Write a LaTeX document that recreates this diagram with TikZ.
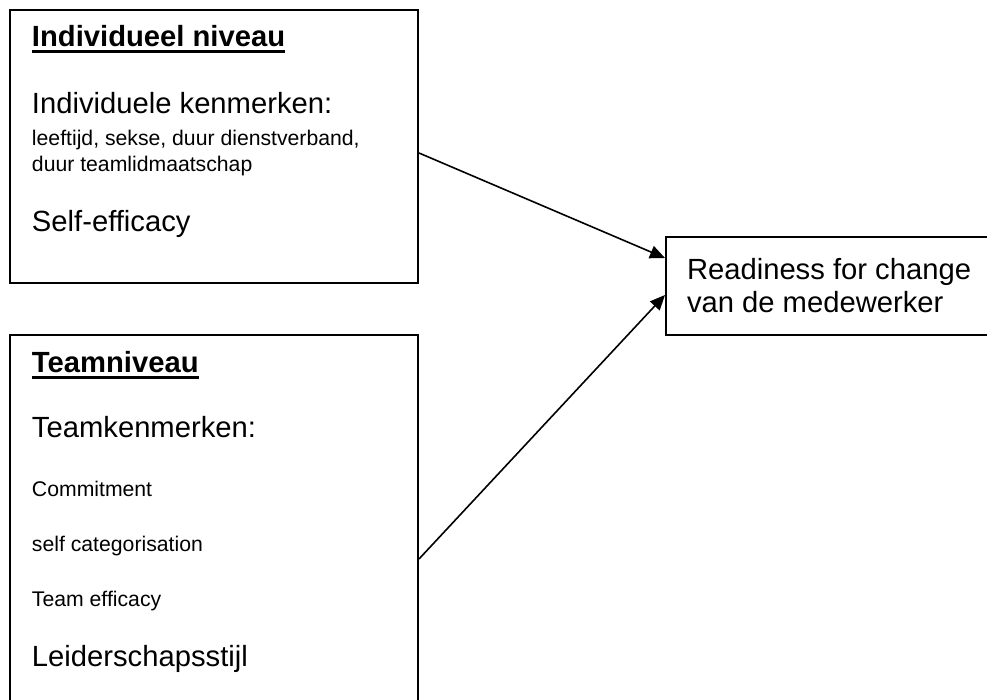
\documentclass[tikz,border=0pt]{standalone}
\usepackage{fontspec}
\setmainfont{Liberation Sans}
\usetikzlibrary{arrows.meta}

\newcommand{\bigtext}{\fontsize{14.6}{17}\selectfont}
\newcommand{\smalltext}{\fontsize{10.6}{13}\selectfont}

\begin{document}
\begin{tikzpicture}
    [
        x=0.5pt, y=-0.5pt,
        box/.style={draw, line width=1pt, inner sep=0pt},
        txt/.style={anchor=base west, inner sep=0pt, outer sep=0pt},
        big/.style={txt, font=\bigtext},
        small/.style={txt, font=\smalltext},
        head/.style={txt, font=\bigtext\bfseries},
        ->, >={Triangle[length=7.5pt,width=6.5pt]}, line width=0.8pt
    ]
    \useasboundingbox (0,0) rectangle (987,700);
    \clip (0,0) rectangle (987,700);

    \node[box, minimum width=204pt, minimum height=136.5pt] (ind) at (214,146.5) {};
    \node[box, minimum width=204pt, minimum height=224pt] (team) at (214,559) {};
    \node[box, minimum width=172pt, minimum height=49pt] (ready) at (838,286) {};

    \node[head] (indhead) at (32,47) {Individueel niveau};
    \node[big] (indkenm) at (32,114) {Individuele kenmerken:};
    \node[small] (indlist1) at (32,146) {leeftijd, sekse, duur dienstverband,};
    \node[small] (indlist2) at (32,172) {duur teamlidmaatschap};
    \node[big] (selfeff) at (32,232) {Self-efficacy};

    \node[head] (teamhead) at (32,373) {Teamniveau};
    \node[big] (teamkenm) at (32,438) {Teamkenmerken:};
    \node[small] (commit) at (32,497) {Commitment};
    \node[small] (selfcat) at (32,552) {self categorisation};
    \node[small] (teameff) at (32,607) {Team efficacy};
    \node[big] (leider) at (32,667) {Leiderschapsstijl};

    \node[big] (ready1) at (687,280) {Readiness for change};
    \node[big] (ready2) at (687,313) {van de medewerker};

    \draw[-, line width=1.4pt] ([yshift=-2.2pt]indhead.base west) -- ([yshift=-2.2pt]indhead.base east);
    \draw[-, line width=1.4pt] ([yshift=-2.2pt]teamhead.base west) -- ([yshift=-2.2pt]teamhead.base east);

    \draw ([yshift=-3.25pt]ind.east) -- ([yshift=14pt]ready.west);
    \draw (team.east) -- ([yshift=-4.5pt]ready.west);
\end{tikzpicture}
\end{document}
